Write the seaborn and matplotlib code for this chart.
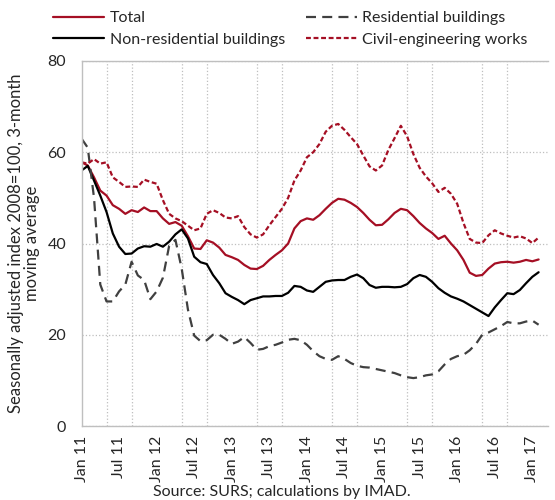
import pandas as pd
import numpy as np
import matplotlib
matplotlib.use("Agg")
import matplotlib.pyplot as plt
import seaborn as sns

# monthly values, Jan 2011 .. Feb 2017 (3-month moving average, 2008=100)
total = [57.8, 57.1, 54.5, 51.6, 50.5, 48.4, 47.6, 46.5, 47.3, 46.9, 47.9, 47.1,
         47.1, 45.5, 44.3, 44.7, 43.9, 41.6, 38.9, 38.8, 40.7, 40.2, 39.1, 37.5,
         37.0, 36.4, 35.3, 34.5, 34.4, 35.1, 36.4, 37.5, 38.5, 40.0, 43.3, 44.9,
         45.5, 45.2, 46.2, 47.6, 48.9, 49.8, 49.6, 48.9, 48.0, 46.7, 45.2, 44.0,
         44.1, 45.3, 46.7, 47.6, 47.3, 46.0, 44.5, 43.3, 42.3, 41.0, 41.7, 40.0,
         38.5, 36.4, 33.6, 32.9, 33.1, 34.5, 35.6, 35.9, 36.0, 35.8, 36.0, 36.4,
         36.1, 36.5]
residential = [63.0, 61.0, 50.0, 31.0, 27.3, 27.3, 29.5, 31.0, 36.0, 33.0, 32.0, 27.8,
               29.5, 32.5, 39.5, 40.8, 34.5, 25.5, 19.8, 18.6, 18.8, 20.0, 20.0, 19.1,
               18.0, 18.5, 19.5, 18.2, 16.7, 16.9, 17.5, 17.8, 18.3, 18.9, 19.1, 18.8,
               17.8, 16.4, 15.3, 14.7, 14.5, 15.3, 14.7, 13.8, 13.2, 12.9, 12.8, 12.5,
               12.2, 11.9, 11.6, 11.1, 10.7, 10.5, 10.7, 11.1, 11.3, 12.0, 13.5, 14.7,
               15.3, 15.6, 16.6, 18.0, 20.0, 20.5, 21.2, 21.9, 22.8, 22.5, 22.5, 22.9,
               23.1, 22.2]
non_residential = [56.0, 57.0, 53.8, 50.5, 46.9, 42.2, 39.3, 37.7, 37.8, 38.9, 39.4, 39.3,
                   39.9, 39.3, 40.4, 42.0, 43.1, 41.1, 37.1, 35.9, 35.5, 33.1, 31.3, 29.1,
                   28.3, 27.6, 26.7, 27.6, 28.0, 28.4, 28.4, 28.5, 28.5, 29.2, 30.7, 30.5,
                   29.7, 29.4, 30.5, 31.6, 31.9, 32.0, 32.0, 32.7, 33.2, 32.4, 30.9, 30.3,
                   30.5, 30.5, 30.4, 30.5, 31.1, 32.4, 33.1, 32.7, 31.6, 30.2, 29.2, 28.4,
                   27.9, 27.3, 26.5, 25.7, 24.9, 24.1, 26.0, 27.6, 29.1, 28.9, 29.8, 31.3,
                   32.7, 33.7]
civil = [57.8, 57.5, 58.5, 57.5, 57.8, 54.5, 53.5, 52.4, 52.5, 52.4, 54.0, 53.5,
         53.1, 49.5, 46.5, 45.5, 44.9, 43.9, 42.9, 43.3, 46.5, 47.3, 46.7, 45.7,
         45.5, 46.0, 43.6, 42.0, 41.3, 42.0, 44.0, 45.8, 47.6, 50.0, 53.8, 56.0,
         58.9, 60.0, 61.8, 64.5, 65.8, 66.2, 64.9, 63.3, 61.8, 59.3, 56.9, 56.0,
         57.1, 60.5, 63.1, 65.8, 63.5, 59.6, 56.6, 54.7, 53.2, 51.3, 52.2, 50.9,
         48.7, 44.5, 41.0, 40.2, 40.1, 41.8, 42.9, 42.2, 41.7, 41.3, 41.6, 41.1,
         40.1, 41.3]

tick_labels = ["Jan 11", "Jul 11", "Jan 12", "Jul 12", "Jan 13", "Jul 13", "Jan 14",
               "Jul 14", "Jan 15", "Jul 15", "Jan 16", "Jul 16", "Jan 17"]

names = ["Total", "Non-residential buildings", "Residential buildings", "Civil-engineering works"]
series = {"Total": total, "Non-residential buildings": non_residential,
          "Residential buildings": residential, "Civil-engineering works": civil}

months = np.arange(len(total))
df = pd.concat([pd.DataFrame({"month": months, "value": v, "series": k}) for k, v in series.items()])

sns.set_style("white")
plt.rcParams["font.family"] = ["Lato", "DejaVu Sans"]
plt.rcParams["font.size"] = 11

red = "#A50F24"
palette = {"Total": red, "Non-residential buildings": "black",
           "Residential buildings": "#404040", "Civil-engineering works": red}
dashes = {"Total": "", "Non-residential buildings": "",
          "Residential buildings": (4.5, 2.8), "Civil-engineering works": (2.2, 1.2)}

fig = plt.figure(figsize=(5.55, 5.0), dpi=100)
ax = fig.add_axes([81.5 / 555, 1 - 426 / 500, (548 - 81.5) / 555, (426 - 61) / 500])

sns.lineplot(data=df, x="month", y="value", hue="series", style="series",
             hue_order=names, style_order=names, palette=palette, dashes=dashes,
             linewidth=1.6, ax=ax)

handles, labels = ax.get_legend_handles_labels()
ax.get_legend().remove()
fig.legend(handles, labels, loc="upper left", bbox_to_anchor=(53 / 555, 1 - 11 / 500),
           ncol=2, frameon=False, borderpad=0, borderaxespad=0,
           handlelength=3.2, handletextpad=0.35, columnspacing=1.3,
           labelspacing=0.45, fontsize=11.5)

ax.set_xlim(0, 74.5)
ax.set_ylim(0, 80)
ax.set_yticks([0, 20, 40, 60, 80])
ax.set_xticks(np.arange(0, 73, 6))
ax.set_xticklabels(tick_labels, rotation=90)
ax.set_xticks(np.arange(0, 73, 4), minor=True)
ax.tick_params(axis="both", which="both", length=0, labelsize=11.5)
ax.tick_params(axis="y", pad=11)
ax.tick_params(axis="x", pad=7)

ax.grid(False)
ax.grid(axis="x", which="minor", color="#BFBFBF", linestyle=":", linewidth=0.9)
ax.grid(axis="y", which="major", color="#BFBFBF", linestyle=":", linewidth=0.9)

for side in ["left", "bottom", "top"]:
    ax.spines[side].set_color("#BFBFBF")
    ax.spines[side].set_linewidth(1.0)
ax.spines["right"].set_visible(False)

ax.set_xlabel("")
ax.set_ylabel("Seasonally adjusted index 2008=100, 3-month\nmoving average", fontsize=12,
              linespacing=1.0)
ax.yaxis.set_label_coords(-0.09, 0.5)

fig.text(282 / 555, 1 - 492 / 500, "Source: SURS; calculations by IMAD.",
         ha="center", va="center", fontsize=11.5)

fig.savefig("out.png", dpi=100)
